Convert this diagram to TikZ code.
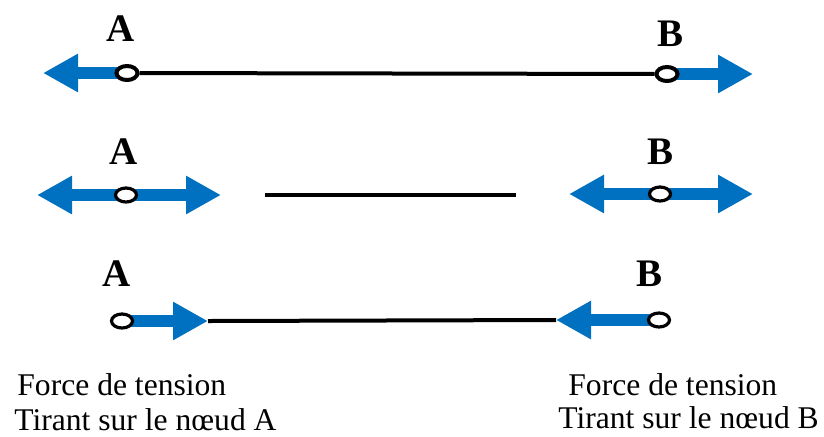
\documentclass[tikz,border=0pt]{standalone}
\usepackage{fontspec}
\setmainfont{Liberation Serif}
\usetikzlibrary{positioning}
\usetikzlibrary{arrows.meta,shapes.geometric,backgrounds}
\definecolor{forceblue}{RGB}{0,112,192}

\begin{document}
\begin{tikzpicture}[x=0.5pt,y=-0.5pt,
  noeud/.style={ellipse,draw,fill=white,line width=1.6pt,minimum width=10.5pt,minimum height=7pt,inner sep=0pt},
  force/.style={forceblue,line width=6pt,-{Triangle[length=17.5pt,width=18pt]}},
  fil/.style={line width=2pt},
  lettre/.style={font=\fontsize{19.5}{22}\selectfont\bfseries,inner sep=0pt},
  legende/.style={font=\fontsize{15.8}{19}\selectfont,anchor=base west,inner sep=0pt}]
\useasboundingbox (0,0) rectangle (824,436);
% fil tendu
\node[noeud,line width=2pt] (A1) at (127,73) {};
\node[noeud,line width=2pt] (B1) at (667,74) {};
\coordinate (fA1) at (43,73);
\coordinate (fB1) at (753,74);
\node[lettre] (lA1) at (121,29) {A};
\node[lettre] (lB1) at (670,34) {B};
%%%%%%%%%%%%%%%%%%%%%%%%%%%%%%%%%
\node[noeud] (A2) at (126,195) {};
\node[noeud] (B2) at (660,194) {};
\coordinate (gA2) at (37,195);
\coordinate (dA2) at (221,195);
\coordinate (gB2) at (569,194);
\coordinate (dB2) at (753,194);
\coordinate (m1) at (265,195);
\coordinate (m2) at (516,195);
\node[lettre] (lA2) at (124,152) {A};
\node[lettre] (lB2) at (660,152) {B};
%%%%%%%%%%%%%%%%%%%%%%%%%%%%%%%%%
\node[noeud] (A3) at (122,321) {};
\node[noeud] (B3) at (659,320) {};
\coordinate (fA3) at (208,321);
\coordinate (fB3) at (556,320);
\node[lettre] (lA3) at (117,274) {A};
\node[lettre] (lB3) at (649,274) {B};
%%%%%%%%%%%%%%%%%%%%%%%%%%%%%%%%%
\node[legende] (tA1) at (17,395) {Force de tension};
\node[legende] (tA2) at (14,430) {Tirant sur le nœud A};
\node[legende] (tB1) at (568,395) {Force de tension};
\node[legende] (tB2) at (558,428) {Tirant sur le nœud B};
\begin{scope}[on background layer]
\draw[fil] (A1) -- (B1);
\draw[force] (A1.center) -- (fA1);
\draw[force] (B1.center) -- (fB1);
\draw[force] (A2.center) -- (gA2);
\draw[force] (A2.center) -- (dA2);
\draw[force] (B2.center) -- (gB2);
\draw[force] (B2.center) -- (dB2);
\draw[fil] (m1) -- (m2);
\draw[fil] (fA3) -- (fB3);
\draw[force] (A3.center) -- (fA3);
\draw[force] (B3.center) -- (fB3);
\end{scope}
\end{tikzpicture}
\end{document}
